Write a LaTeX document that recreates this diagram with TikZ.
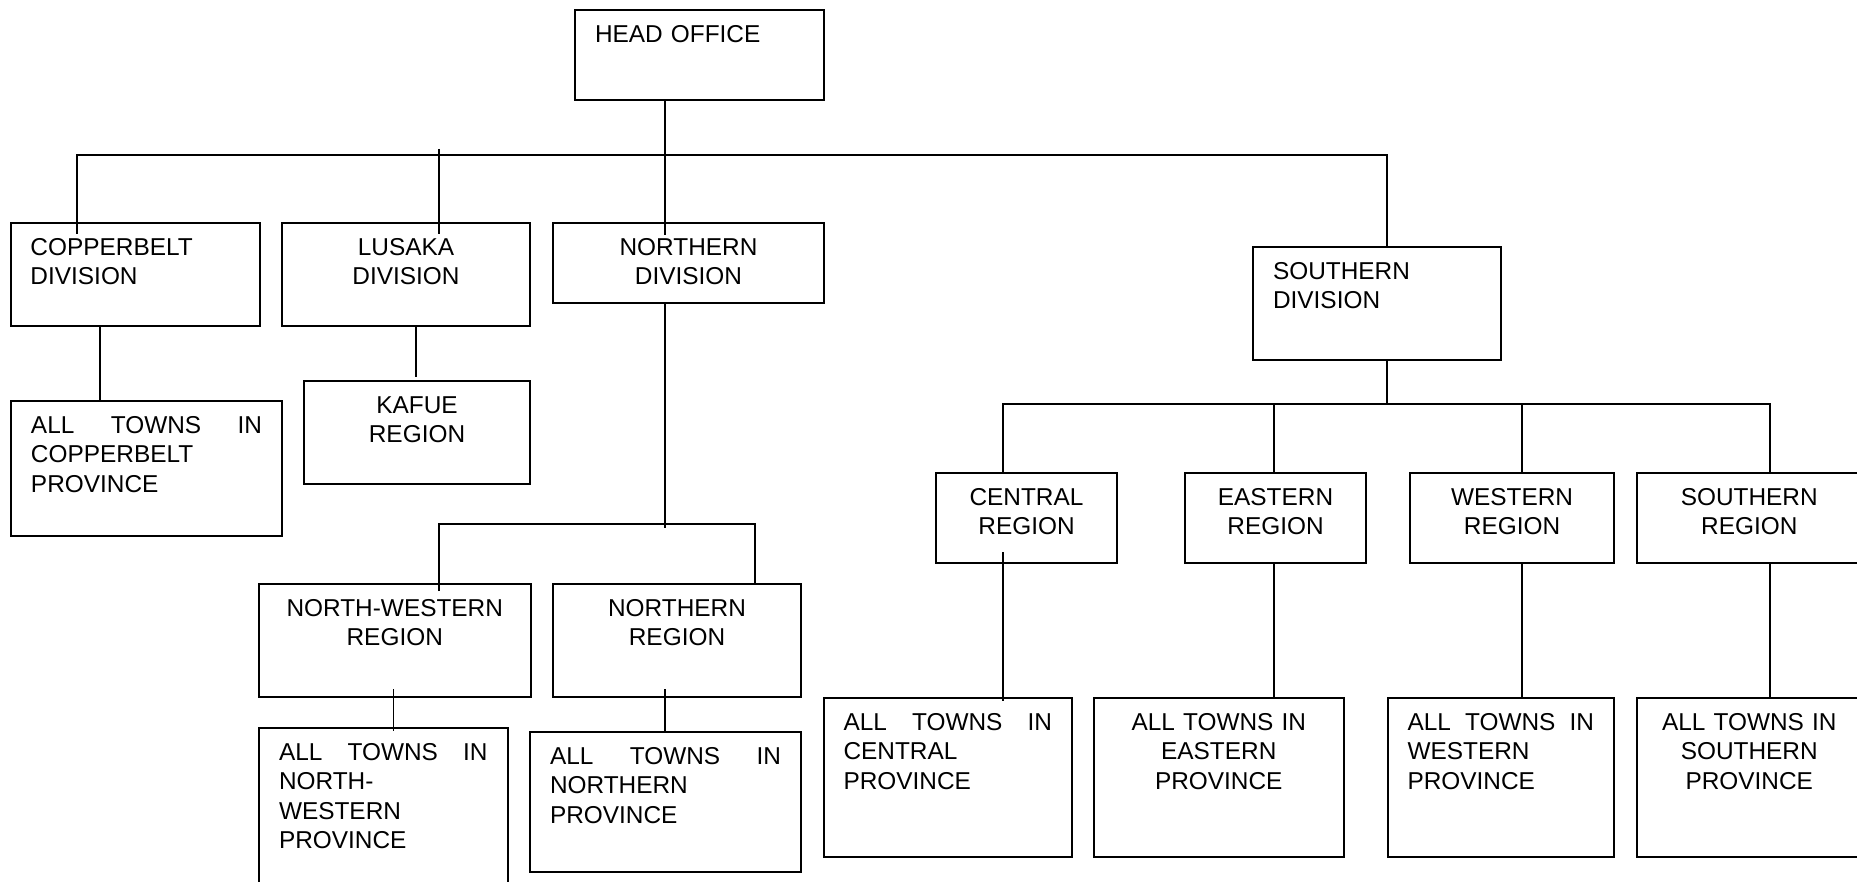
\documentclass[tikz,border=0pt]{standalone}
\usepackage{fontspec}
\setmainfont{Liberation Sans}
\usetikzlibrary{calc}

\tikzset{
  unit/.style={draw, line width=1pt, anchor=north west, inner ysep=7.25pt,
    text height=9pt, font=\fontsize{12.2pt}{14.65pt}\selectfont},
  leftbox/.style 2 args={unit, inner xsep=10pt, align=left,
    text width=#1-20pt, text depth=#2-23.5pt},
  midbox/.style 2 args={unit, inner xsep=4pt, align=center,
    text width=#1-8pt, text depth=#2-23.5pt},
  link/.style={line width=0.75pt},
}

\begin{document}
\begin{tikzpicture}[x=0.5pt, y=-0.5pt]
\useasboundingbox (0,0) rectangle (1857,882);
\clip (0,0) rectangle (1857,882);

% head office and the four divisions
\node[leftbox={124.5pt}{45pt}] (head) at (574,9) {HEAD OFFICE};
\node[leftbox={124.5pt}{51.5pt}] (cbdiv) at (9.5,222) {COPPERBELT\\DIVISION};
\node[midbox={124pt}{51.5pt}] (lkdiv) at (281,222) {LUSAKA\\DIVISION};
\node[midbox={135.5pt}{40pt}] (ndiv) at (552,222) {NORTHERN\\DIVISION};
\node[leftbox={124pt}{56.5pt}] (sdiv) at (1252,246) {SOUTHERN\\DIVISION};

% left half: regions and towns
\node[leftbox={135.5pt}{67.5pt}] (cbtowns) at (10,400) {ALL\hfill TOWNS\hfill IN\\COPPERBELT\\PROVINCE};
\node[midbox={113pt}{51.5pt}] (kafue) at (303,380) {KAFUE\\REGION};
\node[midbox={135.75pt}{56.5pt}] (nwreg) at (258,583) {NORTH-WESTERN\\REGION};
\node[midbox={124pt}{56.5pt}] (nreg) at (552,583) {NORTHERN\\REGION};
\node[leftbox={124.25pt}{90pt}] (nwtowns) at (258,727) {ALL\hfill TOWNS\hfill IN\\NORTH-\\WESTERN\\PROVINCE};
\node[leftbox={135.5pt}{70pt}] (ntowns) at (529,731) {ALL\hfill TOWNS\hfill IN\\NORTHERN\\PROVINCE};

% right half: southern division regions and towns
\node[midbox={90.5pt}{45pt}] (creg) at (935,471.5) {CENTRAL\\REGION};
\node[midbox={90.5pt}{45pt}] (ereg) at (1184,471.5) {EASTERN\\REGION};
\node[midbox={102pt}{45pt}] (wreg) at (1409,471.5) {WESTERN\\REGION};
\node[midbox={112.75pt}{45pt}] (sreg) at (1635.5,471.5) {SOUTHERN\\REGION};
\node[leftbox={124.25pt}{79.5pt}] (ctowns) at (822.5,697) {ALL\hfill TOWNS\hfill IN\\CENTRAL\\PROVINCE};
\node[midbox={124.75pt}{79.5pt}] (etowns) at (1093,697) {ALL TOWNS IN\\EASTERN\\PROVINCE};
\node[leftbox={113.25pt}{79.5pt}] (wtowns) at (1386.5,697) {ALL\hfill TOWNS\hfill IN\\WESTERN\\PROVINCE};
\node[midbox={112.75pt}{79.5pt}] (stowns) at (1635.5,697) {ALL TOWNS IN\\SOUTHERN\\PROVINCE};

% junction points of the bars
\coordinate (hq) at (665,155);
\coordinate (cbtop) at (77,155);
\coordinate (lktop) at (439,149);
\coordinate (stop) at (1387,155);
\coordinate (cbx) at (100,400);
\coordinate (lkx) at (416,380);
\coordinate (nbar) at (665,524);
\coordinate (nwx) at (439,524);
\coordinate (nx) at (755,524);
\coordinate (nwtx) at (393.5,727);
\coordinate (sbar) at (1387,404);
\coordinate (cx) at (1003,404);
\coordinate (ex) at (1274,404);
\coordinate (wx) at (1522,404);
\coordinate (sx) at (1770,404);

% top bar
\draw[link] ($(cbdiv.north -| cbtop)+(0,12)$) -- (cbtop) -- (stop) -- (sdiv.north -| stop);
\draw[link] (head.south -| hq) -- ($(ndiv.north -| hq)+(0,13)$);
\draw[link] (lktop) -- ($(lkdiv.north -| lktop)+(0,12)$);

% left branches
\draw[link] (cbdiv.south -| cbx) -- (cbtowns.north -| cbx);
\draw[link] (lkdiv.south -| lkx) -- ($(kafue.north -| lkx)+(0,-3)$);
\draw[link] (ndiv.south -| hq) -- ($(nbar)+(0,4)$);
\draw[link] ($(nwreg.north -| nwx)+(0,8)$) -- (nwx) -- (nx) -- (nreg.north -| nx);
\draw[link] ($(nwreg.south -| nwtx)+(0,-9)$) -- ($(nwtowns.north -| nwtx)+(0,4)$);
\draw[link] ($(nreg.south -| hq)+(0,-9)$) -- (ntowns.north -| hq);

% right branches
\draw[link] (sdiv.south -| sbar) -- (sbar);
\draw[link] (creg.north -| cx) -- (cx) -- (sx) -- (sreg.north -| sx);
\draw[link] (ex) -- (ereg.north -| ex);
\draw[link] (wx) -- (wreg.north -| wx);
\draw[link] ($(creg.south -| cx)+(0,-11.5)$) -- ($(ctowns.north -| cx)+(0,3.5)$);
\draw[link] (ereg.south -| ex) -- (etowns.north -| ex);
\draw[link] (wreg.south -| wx) -- (wtowns.north -| wx);
\draw[link] (sreg.south -| sx) -- (stowns.north -| sx);

\end{tikzpicture}
\end{document}
